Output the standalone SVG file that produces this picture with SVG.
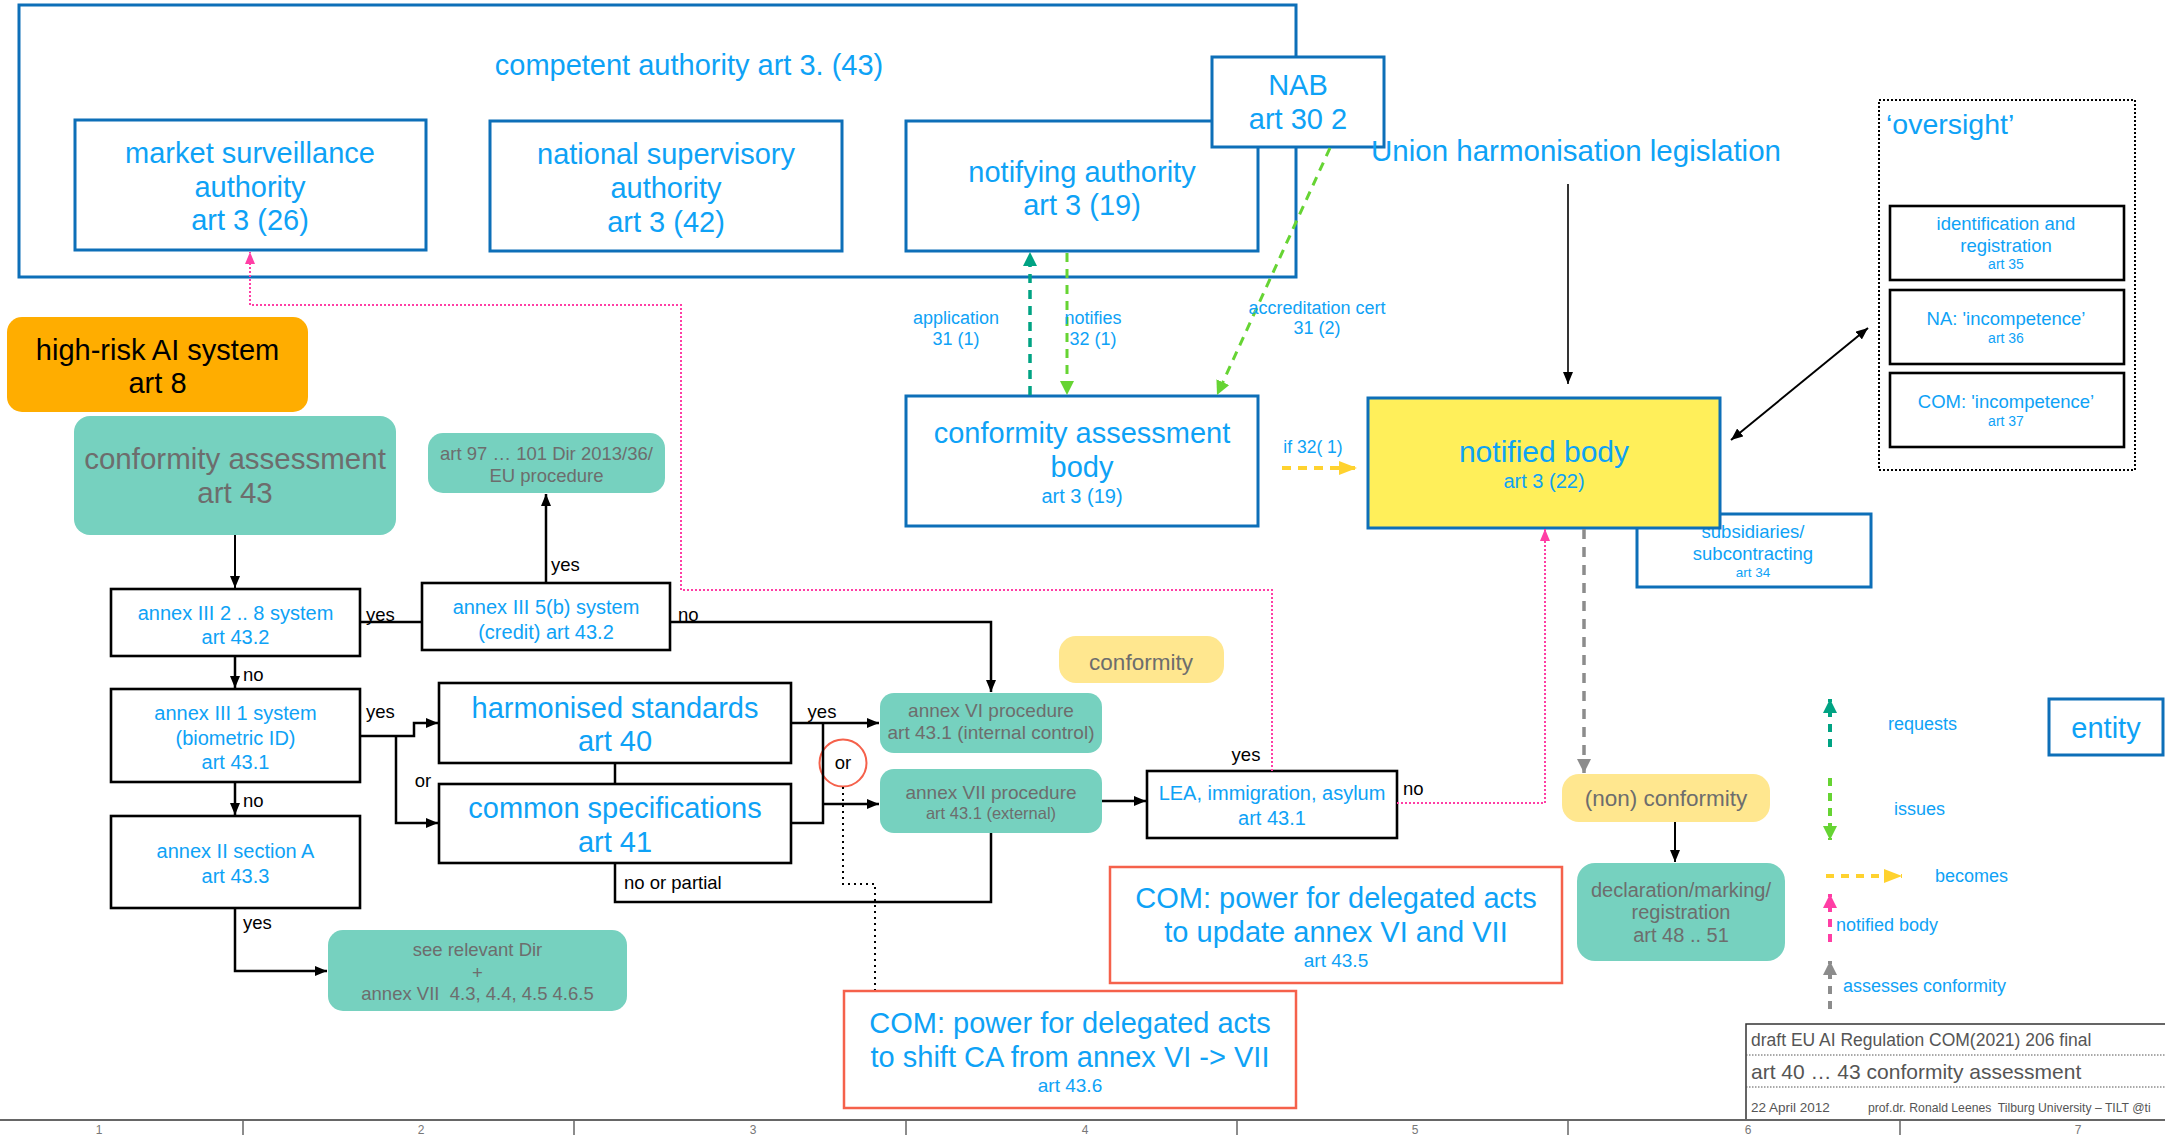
<svg xmlns="http://www.w3.org/2000/svg" width="2165" height="1135" viewBox="0 0 2165 1135">
<style>
text{font-family:"Liberation Sans",Arial,Helvetica,sans-serif}
.b{fill:#0ea2f6}
.g{fill:#6d6d6d}
.k{fill:#000}
.m{text-anchor:middle}
.bx{fill:#fff;stroke:#0d6fb8;stroke-width:3}
.kx{fill:#fff;stroke:#000;stroke-width:2.6}
.tl{fill:#76d1bf}
.ln{fill:none;stroke:#000;stroke-width:2.5}
.pk{fill:none;stroke:#ff3ea5;stroke-width:2;stroke-dasharray:2 2}
</style>
<defs>
<marker id="ak" viewBox="0 0 12 10" refX="12" refY="5" markerWidth="12" markerHeight="10" markerUnits="userSpaceOnUse" orient="auto-start-reverse"><path d="M0,0L12,5L0,10z" fill="#000"/></marker>
<marker id="at" viewBox="0 0 14 14" refX="14" refY="7" markerWidth="14" markerHeight="14" markerUnits="userSpaceOnUse" orient="auto"><path d="M0,0L14,7L0,14z" fill="#00a383"/></marker>
<marker id="ag" viewBox="0 0 14 14" refX="14" refY="7" markerWidth="14" markerHeight="14" markerUnits="userSpaceOnUse" orient="auto"><path d="M0,0L14,7L0,14z" fill="#66d433"/></marker>
<marker id="ay" viewBox="0 0 18 14" refX="18" refY="7" markerWidth="18" markerHeight="14" markerUnits="userSpaceOnUse" orient="auto"><path d="M0,0L18,7L0,14z" fill="#ffd22e"/></marker>
<marker id="ap" viewBox="0 0 12 10" refX="12" refY="5" markerWidth="12" markerHeight="10" markerUnits="userSpaceOnUse" orient="auto"><path d="M0,0L12,5L0,10z" fill="#ff3ea5"/></marker>
<marker id="ap2" viewBox="0 0 14 14" refX="14" refY="7" markerWidth="14" markerHeight="14" markerUnits="userSpaceOnUse" orient="auto"><path d="M0,0L14,7L0,14z" fill="#ff3ea5"/></marker>
<marker id="ay2" viewBox="0 0 14 14" refX="14" refY="7" markerWidth="14" markerHeight="14" markerUnits="userSpaceOnUse" orient="auto"><path d="M0,0L14,7L0,14z" fill="#8c8c8c"/></marker>
</defs>

<!-- competent authority container -->
<g id="competent-authority">
<rect class="bx" x="19" y="5" width="1277" height="272"/>
<text class="b m" x="689" y="75" font-size="29">competent authority art 3. (43)</text>
</g>
<g id="market-surveillance">
<rect class="bx" x="75" y="120" width="351" height="130"/>
<text class="b m" x="250" y="163" font-size="29">market surveillance</text>
<text class="b m" x="250" y="197" font-size="29">authority</text>
<text class="b m" x="250" y="230" font-size="29">art 3 (26)</text>
</g>
<g id="national-supervisory">
<rect class="bx" x="490" y="121" width="352" height="130"/>
<text class="b m" x="666" y="164" font-size="29">national supervisory</text>
<text class="b m" x="666" y="198" font-size="29">authority</text>
<text class="b m" x="666" y="232" font-size="29">art 3 (42)</text>
</g>
<g id="notifying-authority">
<rect class="bx" x="906" y="121" width="352" height="130"/>
<text class="b m" x="1082" y="182" font-size="29">notifying authority</text>
<text class="b m" x="1082" y="215" font-size="29">art 3 (19)</text>
</g>
<g id="nab">
<rect class="bx" x="1212" y="57" width="172" height="90"/>
<text class="b m" x="1298" y="95" font-size="29">NAB</text>
<text class="b m" x="1298" y="129" font-size="29">art 30 2</text>
</g>
<g id="union-legislation">
<text class="b m" x="1576" y="161" font-size="29.5">Union harmonisation legislation</text>
</g>

<!-- oversight -->
<g id="oversight">
<rect x="1879" y="100" width="256" height="370" fill="none" stroke="#000" stroke-width="2" stroke-dasharray="2 2"/>
<text class="b" x="1886" y="134" font-size="28.5">‘oversight’</text>
</g>
<g id="identification">
<rect class="kx" x="1890" y="206" width="234" height="74"/>
<text class="b m" x="2006" y="229.5" font-size="18.5">identification and</text>
<text class="b m" x="2006" y="251.5" font-size="18.5">registration</text>
<text class="b m" x="2006" y="269" font-size="14">art 35</text>
</g>
<g id="na-incompetence">
<rect class="kx" x="1890" y="290" width="234" height="74"/>
<text class="b m" x="2006" y="324.5" font-size="18.5">NA: 'incompetence’</text>
<text class="b m" x="2006" y="343" font-size="14">art 36</text>
</g>
<g id="com-incompetence">
<rect class="kx" x="1890" y="373" width="234" height="74"/>
<text class="b m" x="2006" y="407.5" font-size="18.5">COM: 'incompetence’</text>
<text class="b m" x="2006" y="426" font-size="14">art 37</text>
</g>

<g id="subsidiaries">
<rect class="bx" x="1637" y="514" width="234" height="73"/>
<text class="b m" x="1753" y="537.5" font-size="18.5">subsidiaries/</text>
<text class="b m" x="1753" y="559.5" font-size="18.5">subcontracting</text>
<text class="b m" x="1753" y="577" font-size="13.5">art 34</text>
</g>
<g id="notified-body">
<rect x="1368" y="398" width="352" height="130" fill="#ffef5a" stroke="#0d6fb8" stroke-width="3"/>
<text class="b m" x="1544" y="461.5" font-size="30">notified body</text>
<text class="b m" x="1544" y="488" font-size="20">art 3 (22)</text>
</g>
<g id="cab">
<rect class="bx" x="906" y="396" width="352" height="130"/>
<text class="b m" x="1082" y="443" font-size="29">conformity assessment</text>
<text class="b m" x="1082" y="477" font-size="29">body</text>
<text class="b m" x="1082" y="503" font-size="20">art 3 (19)</text>
</g>

<g id="high-risk">
<rect x="7" y="317" width="301" height="95" rx="15" fill="#ffad00"/>
<text class="k m" x="157.5" y="360" font-size="29">high-risk AI system</text>
<text class="k m" x="157.5" y="393" font-size="29">art 8</text>
</g>
<g id="conformity-assessment">
<rect class="tl" x="74" y="416" width="322" height="119" rx="16"/>
<text class="g m" x="235" y="469" font-size="29.5">conformity assessment</text>
<text class="g m" x="235" y="503" font-size="29.5">art 43</text>
</g>
<g id="art97">
<rect class="tl" x="428" y="433" width="237" height="60" rx="15"/>
<text class="g m" x="546.5" y="459.5" font-size="18.5">art 97 … 101 Dir 2013/36/</text>
<text class="g m" x="546.5" y="481.5" font-size="18.5">EU procedure</text>
</g>
<g id="annex-iii-2-8">
<rect class="kx" x="111" y="589" width="249" height="67"/>
<text class="b m" x="235.5" y="620" font-size="20">annex III 2 .. 8 system</text>
<text class="b m" x="235.5" y="644" font-size="20">art 43.2</text>
</g>
<g id="annex-iii-5b">
<rect class="kx" x="422" y="583" width="248" height="67"/>
<text class="b m" x="546" y="614" font-size="20">annex III 5(b) system</text>
<text class="b m" x="546" y="639" font-size="20">(credit) art 43.2</text>
</g>
<g id="annex-iii-1">
<rect class="kx" x="111" y="689" width="249" height="93"/>
<text class="b m" x="235.5" y="720" font-size="20">annex III 1 system</text>
<text class="b m" x="235.5" y="745" font-size="20">(biometric ID)</text>
<text class="b m" x="235.5" y="769" font-size="20">art 43.1</text>
</g>
<g id="annex-ii-a">
<rect class="kx" x="111" y="816" width="249" height="92"/>
<text class="b m" x="235.5" y="858" font-size="20">annex II section A</text>
<text class="b m" x="235.5" y="883" font-size="20">art 43.3</text>
</g>
<g id="see-relevant">
<rect class="tl" x="328" y="930" width="299" height="81" rx="15"/>
<text class="g m" x="477.5" y="955.5" font-size="18.5">see relevant Dir</text>
<text class="g m" x="477.5" y="978.5" font-size="18.5">+</text>
<text class="g m" x="477.5" y="999.5" font-size="18.5" xml:space="preserve">annex VII  4.3, 4.4, 4.5 4.6.5</text>
</g>
<g id="harmonised-standards">
<rect class="kx" x="439" y="683" width="352" height="80"/>
<text class="b m" x="615" y="718" font-size="29">harmonised standards</text>
<text class="b m" x="615" y="751" font-size="29">art 40</text>
</g>
<g id="common-specifications">
<rect class="kx" x="439" y="784" width="352" height="79"/>
<text class="b m" x="615" y="818" font-size="29">common specifications</text>
<text class="b m" x="615" y="852" font-size="29">art 41</text>
</g>
<g id="annex-vi">
<rect class="tl" x="880" y="693" width="222" height="60" rx="14"/>
<text class="g m" x="991" y="717" font-size="19">annex VI procedure</text>
<text class="g m" x="991" y="739" font-size="19">art 43.1 (internal control)</text>
</g>
<g id="annex-vii">
<rect class="tl" x="880" y="769" width="222" height="64" rx="14"/>
<text class="g m" x="991" y="799" font-size="19">annex VII procedure</text>
<text class="g m" x="991" y="819" font-size="16.5">art 43.1 (external)</text>
</g>
<g id="or-circle">
<circle cx="843" cy="763" r="23.5" fill="none" stroke="#f5614b" stroke-width="2"/>
<text class="k m" x="843" y="769" font-size="18.5">or</text>
</g>
<g id="lea">
<rect class="kx" x="1147" y="771" width="250" height="67"/>
<text class="b m" x="1272" y="800" font-size="20">LEA, immigration, asylum</text>
<text class="b m" x="1272" y="825" font-size="20">art 43.1</text>
</g>
<g id="conformity">
<rect x="1059" y="636" width="165" height="47" rx="17" fill="#ffe78f"/>
<text class="g m" x="1141" y="670" font-size="22.5">conformity</text>
</g>
<g id="non-conformity">
<rect x="1562" y="774" width="208" height="48" rx="17" fill="#ffe78f"/>
<text class="g m" x="1666" y="806" font-size="22.5">(non) conformity</text>
</g>
<g id="declaration">
<rect class="tl" x="1577" y="863" width="208" height="98" rx="18"/>
<text class="g m" x="1681" y="897" font-size="20">declaration/marking/</text>
<text class="g m" x="1681" y="919" font-size="20">registration</text>
<text class="g m" x="1681" y="942" font-size="20">art 48 .. 51</text>
</g>
<g id="com-43-5">
<rect x="1110" y="867" width="452" height="116" fill="#fff" stroke="#f5614b" stroke-width="2.5"/>
<text class="b m" x="1336" y="908" font-size="29">COM: power for delegated acts</text>
<text class="b m" x="1336" y="942" font-size="29">to update annex VI and VII</text>
<text class="b m" x="1336" y="967" font-size="19">art 43.5</text>
</g>
<g id="com-43-6">
<rect x="844" y="991" width="452" height="117" fill="#fff" stroke="#f5614b" stroke-width="2.5"/>
<text class="b m" x="1070" y="1033" font-size="29">COM: power for delegated acts</text>
<text class="b m" x="1070" y="1067" font-size="29">to shift CA from annex VI -&gt; VII</text>
<text class="b m" x="1070" y="1092" font-size="19">art 43.6</text>
</g>
<g id="entity-legend">
<rect class="bx" x="2049" y="699" width="114" height="56"/>
<text class="b m" x="2106" y="738" font-size="29">entity</text>
</g>

<!-- connectors -->
<g id="connectors">
<line x1="1568" y1="184" x2="1568" y2="384" stroke="#000" stroke-width="1.6" marker-end="url(#ak)"/>
<line x1="1731" y1="440" x2="1868" y2="328" stroke="#000" stroke-width="2" marker-start="url(#ak)" marker-end="url(#ak)"/>
<line x1="1030" y1="395" x2="1030" y2="252" stroke="#00a383" stroke-width="3.5" stroke-dasharray="9 7" marker-end="url(#at)"/>
<line x1="1067" y1="253" x2="1067" y2="395" stroke="#66d433" stroke-width="3" stroke-dasharray="9 7" marker-end="url(#ag)"/>
<line x1="1330" y1="148" x2="1217" y2="395" stroke="#66d433" stroke-width="3" stroke-dasharray="9 7" marker-end="url(#ag)"/>
<line x1="1282" y1="468" x2="1357" y2="468" stroke="#ffd22e" stroke-width="4" stroke-dasharray="9 7" marker-end="url(#ay)"/>
<line x1="235" y1="535" x2="235" y2="588" stroke="#000" stroke-width="2" marker-end="url(#ak)"/>
<line class="ln" x1="546" y1="583" x2="546" y2="494" marker-end="url(#ak)"/>
<line class="ln" x1="360" y1="622" x2="422" y2="622"/>
<polyline class="ln" points="670,622 991,622 991,692" marker-end="url(#ak)"/>
<line class="ln" x1="235" y1="656" x2="235" y2="688" marker-end="url(#ak)"/>
<polyline class="ln" points="360,736 414,736 414,723 438,723" marker-end="url(#ak)"/>
<polyline class="ln" points="396,736 396,823 438,823" marker-end="url(#ak)"/>
<line class="ln" x1="615" y1="763" x2="615" y2="784"/>
<line class="ln" x1="791" y1="723" x2="879" y2="723" marker-end="url(#ak)"/>
<polyline class="ln" points="791,823 823,823 823,723"/>
<line class="ln" x1="823" y1="804" x2="879" y2="804" marker-end="url(#ak)"/>
<polyline class="ln" points="615,863 615,902 991,902 991,833"/>
<line class="ln" x1="1102" y1="801" x2="1146" y2="801" marker-end="url(#ak)"/>
<line class="ln" x1="235" y1="782" x2="235" y2="815" marker-end="url(#ak)"/>
<polyline class="ln" points="235,908 235,971 327,971" marker-end="url(#ak)"/>
<line x1="1675" y1="822" x2="1675" y2="862" stroke="#000" stroke-width="2" marker-end="url(#ak)"/>
<polyline class="pk" points="1272,771 1272,590 681,590 681,305 250,305 250,252" marker-end="url(#ap)"/>
<polyline class="pk" points="1397,803 1545,803 1545,529" marker-end="url(#ap)"/>
<line x1="1584" y1="529" x2="1584" y2="773" stroke="#8c8c8c" stroke-width="3.5" stroke-dasharray="10 8" marker-end="url(#ay2)"/>
<polyline points="843,787 843,884 875,884 875,990" fill="none" stroke="#000" stroke-width="2" stroke-dasharray="2 4"/>
<!-- legend arrows -->
<line x1="1830" y1="747" x2="1830" y2="699" stroke="#00a383" stroke-width="4" stroke-dasharray="8 7" marker-end="url(#at)"/>
<line x1="1830" y1="778" x2="1830" y2="840" stroke="#66d433" stroke-width="4" stroke-dasharray="8 7" marker-end="url(#ag)"/>
<line x1="1826" y1="876" x2="1902" y2="876" stroke="#ffd22e" stroke-width="4" stroke-dasharray="8 7" marker-end="url(#ay)"/>
<line x1="1830" y1="942" x2="1830" y2="894" stroke="#ff3ea5" stroke-width="4" stroke-dasharray="8 7" marker-end="url(#ap2)"/>
<line x1="1830" y1="1009" x2="1830" y2="961" stroke="#8c8c8c" stroke-width="4" stroke-dasharray="8 7" marker-end="url(#ay2)"/>
</g>

<!-- connector labels -->
<g id="labels">
<text class="b m" x="956" y="324" font-size="18">application</text>
<text class="b m" x="956" y="345" font-size="18">31 (1)</text>
<text class="b m" x="1093" y="324" font-size="18">notifies</text>
<text class="b m" x="1093" y="345" font-size="18">32 (1)</text>
<text class="b m" x="1317" y="314" font-size="18">accreditation cert</text>
<text class="b m" x="1317" y="334" font-size="18">31 (2)</text>
<text class="b m" x="1313" y="453" font-size="17.5">if 32( 1)</text>
<text class="k" x="366" y="621" font-size="18.5">yes</text>
<text class="k" x="551" y="571" font-size="18.5">yes</text>
<text class="k" x="678" y="621" font-size="18.5">no</text>
<text class="k" x="243" y="681" font-size="18.5">no</text>
<text class="k" x="366" y="718" font-size="18.5">yes</text>
<text class="k m" x="423" y="787" font-size="18.5">or</text>
<text class="k" x="243" y="807" font-size="18.5">no</text>
<text class="k" x="243" y="929" font-size="18.5">yes</text>
<text class="k m" x="822" y="718" font-size="18.5">yes</text>
<text class="k" x="624" y="889" font-size="18.5">no or partial</text>
<text class="k m" x="1246" y="761" font-size="18.5">yes</text>
<text class="k" x="1403" y="795" font-size="18.5">no</text>
<text class="b" x="1888" y="730" font-size="18">requests</text>
<text class="b" x="1894" y="815" font-size="18">issues</text>
<text class="b" x="1935" y="882" font-size="18">becomes</text>
<text class="b" x="1836" y="931" font-size="18">notified body</text>
<text class="b" x="1843" y="992" font-size="18">assesses conformity</text>
</g>

<!-- footer -->
<g id="footer">
<polyline points="1746,1120 1746,1024 2165,1024" fill="none" stroke="#333" stroke-width="1.5"/>
<line x1="1746" y1="1055" x2="2165" y2="1055" stroke="#555" stroke-width="1" stroke-dasharray="1.5 1.5"/>
<line x1="1746" y1="1087" x2="2165" y2="1087" stroke="#555" stroke-width="1" stroke-dasharray="1.5 1.5"/>
<text x="1751" y="1046" font-size="17.5" fill="#555">draft EU AI Regulation COM(2021) 206 final</text>
<text x="1751" y="1078.5" font-size="21" fill="#555">art 40 … 43 conformity assessment</text>
<text x="1751" y="1112" font-size="13.5" fill="#555">22 April 2012</text>
<text x="1868" y="1112" font-size="12.2" fill="#555" xml:space="preserve">prof.dr. Ronald Leenes  Tilburg University – TILT @ti</text>
<line x1="0" y1="1120" x2="2165" y2="1120" stroke="#666" stroke-width="2"/>
<g stroke="#666" stroke-width="1.5">
<line x1="243" y1="1120" x2="243" y2="1135"/>
<line x1="574" y1="1120" x2="574" y2="1135"/>
<line x1="906" y1="1120" x2="906" y2="1135"/>
<line x1="1237" y1="1120" x2="1237" y2="1135"/>
<line x1="1568" y1="1120" x2="1568" y2="1135"/>
<line x1="1900" y1="1120" x2="1900" y2="1135"/>
</g>
<g fill="#777" font-size="12" text-anchor="middle">
<text x="99" y="1134">1</text>
<text x="421" y="1134">2</text>
<text x="753" y="1134">3</text>
<text x="1085" y="1134">4</text>
<text x="1415" y="1134">5</text>
<text x="1748" y="1134">6</text>
<text x="2078" y="1134">7</text>
</g>
</g>
</svg>
